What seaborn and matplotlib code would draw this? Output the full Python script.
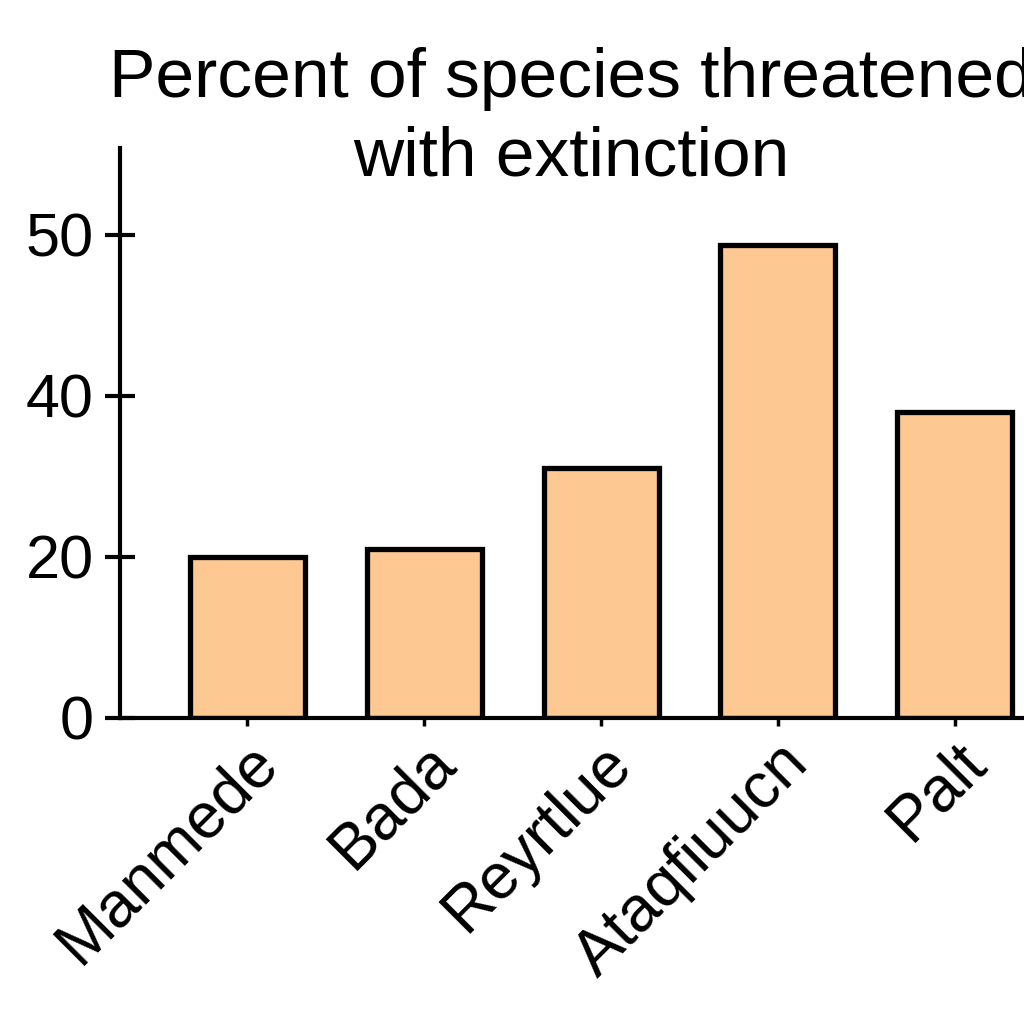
import numpy as np
import pandas as pd
import matplotlib
matplotlib.use("Agg")
import matplotlib.pyplot as plt
import seaborn as sns

categories = ["Manmede", "Bada", "Reyrtlue", "Ataqfiuucn", "Palt"]
percent_threatened = [20, 21, 31, 49.4, 38]
ytick_values = [0, 20, 40, 50]


def stretch(y):
    # axis in the picture spaces 40->50 as wide as 20->40
    y = np.asarray(y, dtype=float)
    return np.where(y <= 40, y, 40 + 2 * (y - 40))


def unstretch(t):
    t = np.asarray(t, dtype=float)
    return np.where(t <= 40, t, 40 + (t - 40) / 2)


sns.set_theme(style="white")
plt.rcParams["font.family"] = ["Liberation Sans", "DejaVu Sans"]
plt.rcParams["text.color"] = "black"
plt.rcParams["xtick.color"] = "black"
plt.rcParams["ytick.color"] = "black"

df = pd.DataFrame({"category": categories, "percent": percent_threatened})

fig = plt.figure(figsize=(10.24, 10.24), dpi=100)
ax = fig.add_axes([120 / 1024, 1 - 718 / 1024, 902 / 1024, 570 / 1024])

sns.barplot(data=df, x="category", y="percent", color="#fdc892", saturation=1,
            edgecolor="black", linewidth=3.8, width=0.65, ax=ax)

ax.set_yscale("function", functions=(stretch, unstretch))
ax.set_ylim(0, 55.4)
ax.set_xlim(-0.72, 4.38)
ax.set_yticks(ytick_values)
ax.set_yticklabels([str(v) for v in ytick_values])
ax.set_xlabel("")
ax.set_ylabel("")

sns.despine(ax=ax)
for side in ["left", "bottom"]:
    ax.spines[side].set_linewidth(3)
    ax.spines[side].set_color("black")

ax.tick_params(axis="y", direction="inout", length=22, width=3, pad=8,
               labelsize=44, left=True)
ax.tick_params(axis="x", direction="out", length=6, width=2.5, pad=4,
               labelsize=46, bottom=True)
for lbl in ax.get_xticklabels():
    lbl.set_rotation(45)
    lbl.set_ha("right")
    lbl.set_va("top")
    lbl.set_rotation_mode("anchor")

fig.text(571 / 1024, 1 - 176 / 1024, "Percent of species threatened\nwith extinction",
         ha="center", va="baseline", fontsize=50, linespacing=1.3)

fig.savefig("out.png", dpi=100)
